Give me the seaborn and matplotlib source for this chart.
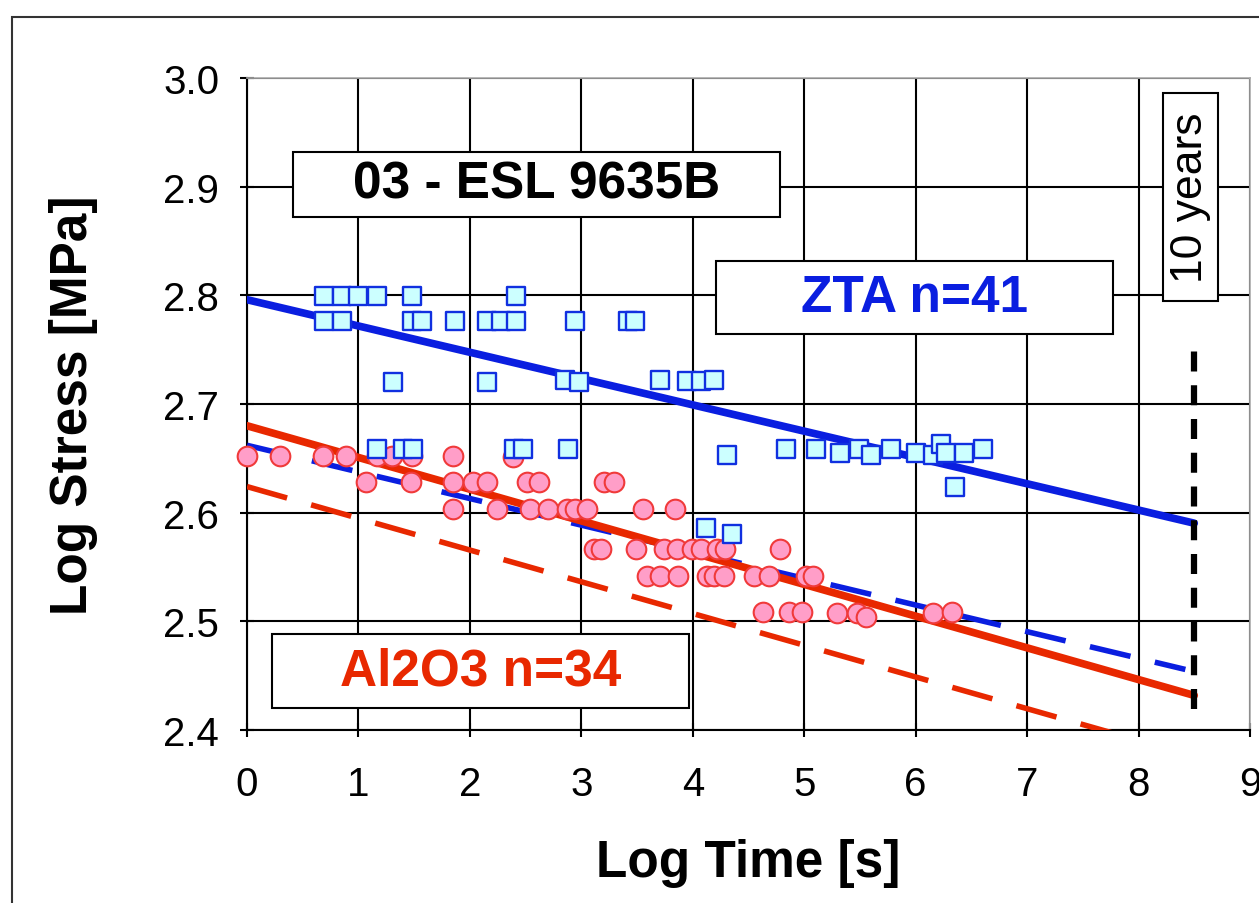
import numpy as np
import pandas as pd
import matplotlib
matplotlib.use("Agg")
import matplotlib.pyplot as plt
from matplotlib.patches import Rectangle
import seaborn as sns

# ZTA specimens (squares): log time [s], log stress [MPa]
zta_time = [0.69, 0.85, 1.00, 1.17, 1.48, 2.41,
            0.69, 0.85, 1.48, 1.57, 1.87, 2.15, 2.28, 2.41, 2.94, 3.42, 3.48,
            1.31, 2.15, 2.85, 2.98, 3.71, 3.95, 4.07, 4.19,
            1.17, 1.40, 1.49, 2.40, 2.48, 2.88,
            4.31, 4.84, 5.11, 5.32, 5.49, 5.60, 5.78, 6.00, 6.16, 6.23, 6.27, 6.43, 6.60,
            6.35, 4.12, 4.35]
zta_stress = [2.799, 2.799, 2.799, 2.799, 2.799, 2.799,
              2.776, 2.776, 2.776, 2.776, 2.776, 2.776, 2.776, 2.776, 2.776, 2.776, 2.776,
              2.720, 2.720, 2.722, 2.720, 2.722, 2.721, 2.721, 2.722,
              2.659, 2.659, 2.659, 2.659, 2.659, 2.659,
              2.653, 2.659, 2.659, 2.655, 2.659, 2.653, 2.659, 2.655, 2.653, 2.663, 2.655, 2.655, 2.659,
              2.624, 2.586, 2.580]

# Al2O3 specimens (circles)
al_time = [0.00, 0.30, 0.68, 0.89, 1.17, 1.30, 1.48, 1.85, 2.39,
           1.07, 1.47, 1.85, 2.03, 2.15, 2.51, 2.62, 3.20, 3.29,
           1.85, 2.24, 2.54, 2.70, 2.87, 2.94, 3.05, 3.55, 3.84,
           3.11, 3.18, 3.49, 3.74, 3.86, 3.99, 4.07, 4.22, 4.29, 4.78,
           3.59, 3.71, 3.87, 4.13, 4.19, 4.28, 4.55, 4.68, 5.02, 5.08,
           4.63, 4.86, 4.98, 5.29, 5.47, 5.55, 6.16, 6.33]
al_stress = [2.652, 2.652, 2.652, 2.652, 2.652, 2.652, 2.652, 2.652, 2.651,
             2.628, 2.628, 2.628, 2.628, 2.628, 2.628, 2.628, 2.628, 2.628,
             2.603, 2.603, 2.603, 2.603, 2.603, 2.603, 2.603, 2.603, 2.603,
             2.567, 2.567, 2.567, 2.567, 2.567, 2.567, 2.567, 2.567, 2.567, 2.567,
             2.542, 2.542, 2.542, 2.542, 2.542, 2.542, 2.542, 2.542, 2.542, 2.542,
             2.509, 2.509, 2.509, 2.508, 2.508, 2.504, 2.508, 2.509]

# fitted lines: intercept, slope, end of log time
zta_fit = (2.796, -0.0242, 8.5)
zta_lower = (2.662, -0.0245, 8.42)
al_fit = (2.680, -0.0292, 8.5)
al_lower = (2.624, -0.0292, 8.5)

ten_years = 8.5
ten_years_span = [2.419, 2.760]

blue = "#0a1ee0"
red = "#e82800"


def fit_frame(params):
    b, m, x_end = params
    x = np.array([0.0, x_end])
    return pd.DataFrame({"t": x, "s": b + m * x})


sns.set_theme(style="white")
plt.rcParams["font.family"] = ["Liberation Sans", "DejaVu Sans"]

fig = plt.figure(figsize=(12.59, 9.04), dpi=100)
ax = fig.add_axes([247 / 1259, 1 - 731 / 904, 1003 / 1259, 652 / 904])

# outer frame of the chart
fig.patches.append(Rectangle((12 / 1259, -0.1), 1.2, 1 - 18 / 904 + 0.1,
                             transform=fig.transFigure, fill=False,
                             edgecolor="#333333", linewidth=1.5, zorder=0))

# fit lines
sns.lineplot(data=fit_frame(zta_fit), x="t", y="s", ax=ax, color=blue, lw=5.5, zorder=4)
sns.lineplot(data=fit_frame(zta_lower), x="t", y="s", ax=ax, color=blue, lw=4,
             zorder=4).lines[-1].set_dashes([7.5, 4.5])
sns.lineplot(data=fit_frame(al_fit), x="t", y="s", ax=ax, color=red, lw=5.5, zorder=5)
sns.lineplot(data=fit_frame(al_lower), x="t", y="s", ax=ax, color=red, lw=4,
             zorder=4).lines[-1].set_dashes([7.5, 4.5])

# data points
zta = pd.DataFrame({"t": zta_time, "s": zta_stress})
al = pd.DataFrame({"t": al_time, "s": al_stress})
sns.scatterplot(data=al, x="t", y="s", ax=ax, marker="o", s=200, color="#ff9ec8",
                edgecolor="#f03a3a", linewidth=1.5, zorder=6, clip_on=False)
sns.scatterplot(data=zta, x="t", y="s", ax=ax, marker="s", s=175, color="#ccffff",
                edgecolor="#1030e0", linewidth=1.7, zorder=7, clip_on=False)

# 10 years marker
ax.plot([ten_years, ten_years], ten_years_span, color="black", lw=4.5,
        dashes=[3.2, 2.2], zorder=8)

ax.set_xlim(0, 9)
ax.set_ylim(2.4, 3.0)
ax.set_xticks(range(10))
ax.set_yticks(np.round(np.arange(2.4, 3.01, 0.1), 1))
ax.set_yticklabels([f"{v:.1f}" for v in np.arange(2.4, 3.01, 0.1)])
ax.grid(True, color="black", lw=1.5)
ax.set_axisbelow(True)
for side in ["left", "bottom"]:
    ax.spines[side].set_color("black")
    ax.spines[side].set_linewidth(1.5)
for side in ["top", "right"]:
    ax.spines[side].set_color("#aaaaaa")
    ax.spines[side].set_linewidth(1.2)
ax.tick_params(axis="both", which="major", direction="inout", length=10, width=1.5,
               color="black", labelcolor="black", labelsize=29,
               bottom=True, left=True)
ax.tick_params(axis="x", pad=20)
ax.tick_params(axis="y", pad=15)

ax.set_xlabel("Log Time [s]", fontsize=37, fontweight="bold", color="black")
ax.set_ylabel("Log Stress [MPa]", fontsize=37, fontweight="bold", color="black")
ax.xaxis.set_label_coords(0.5, -0.165)
ax.yaxis.set_label_coords(-0.149, 0.5)

# text boxes
boxes = [
    ((0.413, 2.872), 4.37, 0.060, "03 - ESL 9635B", "black", 37, "bold", 0),
    ((4.21, 2.764), 3.56, 0.068, "ZTA n=41", blue, 37, "bold", 0),
    ((0.224, 2.420), 3.742, 0.068, "Al2O3 n=34", red, 37, "bold", 0),
    ((8.22, 2.795), 0.49, 0.191, "10 years", "black", 32, "normal", 90),
]
for (x0, y0), w, h, label, col, fs, fw, rot in boxes:
    ax.add_patch(Rectangle((x0, y0), w, h, facecolor="white", edgecolor="black",
                           lw=1.5, zorder=9))
    ax.text(x0 + w / 2, y0 + h / 2, label, color=col, fontsize=fs, fontweight=fw,
            rotation=rot, ha="center", va="center", zorder=10)

fig.savefig("out.png", dpi=100)
